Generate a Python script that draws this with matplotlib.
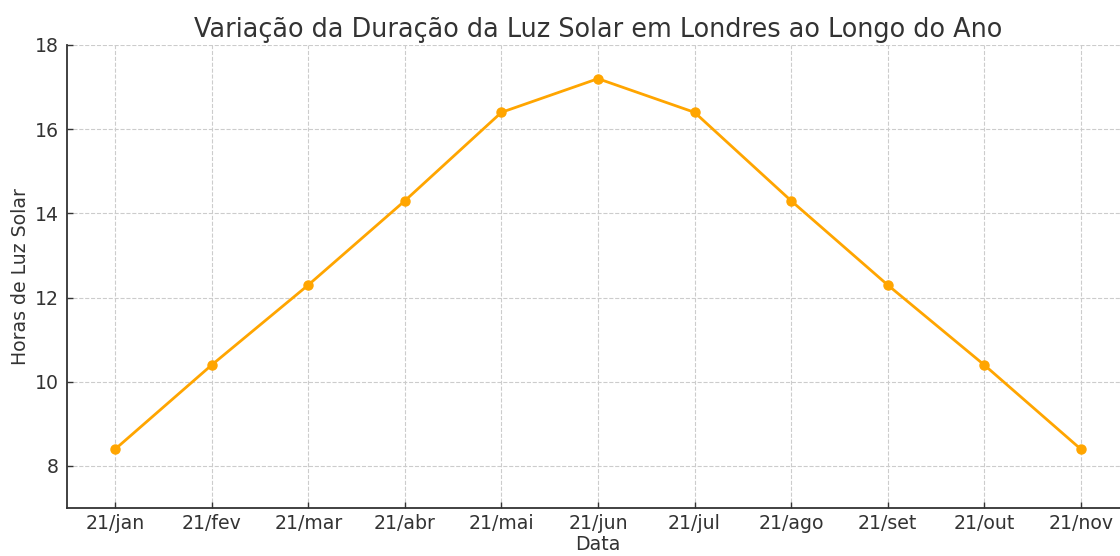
import matplotlib.pyplot as plt

# Horas de luz solar em Londres, dia 21 de cada mês
datas = ['21/jan', '21/fev', '21/mar', '21/abr', '21/mai', '21/jun',
         '21/jul', '21/ago', '21/set', '21/out', '21/nov']
horas = [8.4, 10.4, 12.3, 14.3, 16.4, 17.2, 16.4, 14.3, 12.3, 10.4, 8.4]
y_ticks = [8, 10, 12, 14, 16, 18]

text_color = '#333333'

fig = plt.figure(figsize=(11.2, 5.56), dpi=100)
ax = fig.add_axes([67 / 1120, 48 / 556, 1062 / 1120, 463 / 556])

ax.plot(range(len(datas)), horas, color='#FFA500', marker='o',
        markersize=6.5, linewidth=2)

ax.set_xlim(-0.5, len(datas) - 0.5)
ax.set_ylim(7, 18)
ax.set_xticks(range(len(datas)))
ax.set_xticklabels(datas)
ax.set_yticks(y_ticks)

ax.set_title('Variação da Duração da Luz Solar em Londres ao Longo do Ano',
             fontsize=18.4, color=text_color, pad=6)
ax.set_xlabel('Data', fontsize=13.6, color=text_color, labelpad=2)
ax.set_ylabel('Horas de Luz Solar', fontsize=13.6, color=text_color, labelpad=3)

ax.grid(True, linestyle='--', color='#cccccc', linewidth=0.8)
ax.set_axisbelow(True)
ax.tick_params(labelsize=13.6, colors=text_color, length=4, width=1,
               direction='in')
ax.tick_params(axis='x', pad=4)
ax.tick_params(axis='y', pad=6)
for side in ['top', 'right']:
    ax.spines[side].set_visible(False)
for side in ['left', 'bottom']:
    ax.spines[side].set_color('#333333')
    ax.spines[side].set_linewidth(1.3)

fig.savefig('out.png', dpi=100)
